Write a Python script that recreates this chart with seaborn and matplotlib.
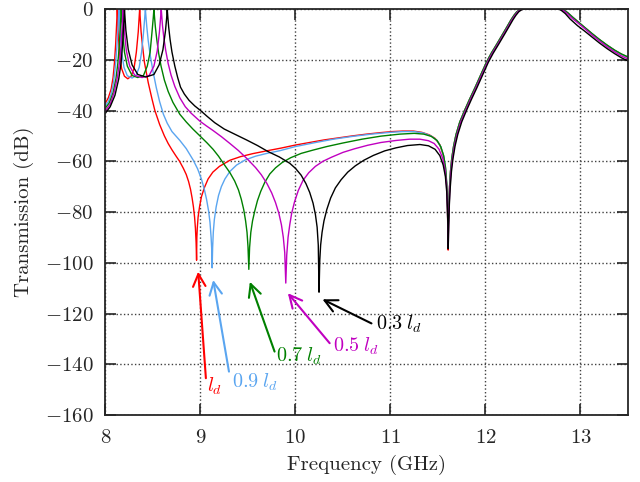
import matplotlib
matplotlib.use("Agg")
import matplotlib.pyplot as plt
import pandas as pd
import seaborn as sns

# ---- transmission curves (frequency in GHz, transmission in dB) ----
red_ghz = [8.00, 8.03, 8.06, 8.08, 8.095, 8.107, 8.116, 8.121, 8.124, 8.127, 8.135, 8.15, 8.17, 8.20,
           8.235, 8.27, 8.30, 8.325, 8.345, 8.355, 8.36, 8.364, 8.375, 8.39, 8.41, 8.45, 8.49, 8.52,
           8.57, 8.62, 8.66, 8.70, 8.74, 8.78, 8.82, 8.85, 8.875, 8.895, 8.912, 8.926, 8.938, 8.947,
           8.954, 8.959, 8.962, 8.967, 8.975, 8.99, 9.01, 9.04, 9.08, 9.13, 9.20, 9.31, 9.42, 9.55,
           9.71, 9.85, 10.0, 10.15, 10.3, 10.45, 10.6, 10.75, 10.9, 11.02, 11.13, 11.24, 11.33, 11.41,
           11.47, 11.52, 11.555, 11.578, 11.592, 11.6, 11.605, 11.607, 11.61, 11.615, 11.622, 11.632,
           11.645, 11.665, 11.69, 11.73, 11.78, 11.83, 11.89, 11.95, 12.01, 12.06, 12.12, 12.18, 12.23,
           12.27, 12.30, 12.33, 12.36, 12.39, 12.55, 12.7, 12.8, 12.83, 12.87, 12.92, 12.99, 13.05,
           13.12, 13.2, 13.28, 13.36, 13.43, 13.5]
red_db = [-37, -35, -31.5, -27, -21, -14, -7, -3, 0, -2, -10, -18, -23.5, -26.5,
          -27.5, -26.5, -23.5, -17, -9, -3, 0, -2.5, -9, -14.5, -21, -29, -35.5, -40,
          -45.5, -50, -53, -55.5, -57.8, -60, -62.8, -65.2, -68, -71, -74.5, -78, -82, -86.5,
          -92, -99, -90, -86, -82, -78, -74, -70.5, -67, -64.3, -62, -59.6, -58.2, -57,
          -55.8, -54.8, -53.6, -52.6, -51.6, -50.8, -50, -49.3, -48.7, -48.3, -48.1, -48.1, -48.6, -49.6,
          -51, -53.5, -57.5, -63, -69.5, -78.5, -90, -95, -85, -77, -70, -64,
          -59, -54, -49.5, -44.5, -40, -35.8, -31, -26, -21, -17.5, -13.8, -10, -6.8,
          -4.2, -2.5, -1.1, -0.3, 0, 0, 0, 0, -0.5, -1.6, -3.3, -5.6, -7.5,
          -9.7, -12.1, -14.3, -16.3, -17.8, -19]

blue_ghz = [8.00, 8.03, 8.06, 8.085, 8.105, 8.12, 8.131, 8.137, 8.142, 8.146, 8.155, 8.17, 8.195, 8.23,
            8.28, 8.32, 8.355, 8.38, 8.40, 8.413, 8.42, 8.425, 8.435, 8.45, 8.47, 8.50, 8.535, 8.57,
            8.61, 8.65, 8.70, 8.783, 8.85, 8.923, 8.97, 9.01, 9.04, 9.064, 9.085, 9.10, 9.112, 9.119,
            9.123, 9.128, 9.135, 9.146, 9.165, 9.19, 9.22, 9.257, 9.31, 9.38, 9.47, 9.58, 9.71, 9.84,
            10.0, 10.2, 10.4, 10.6, 10.8, 11.0, 11.13, 11.25, 11.35, 11.43, 11.49, 11.53, 11.56, 11.58,
            11.592, 11.6, 11.605, 11.607, 11.61, 11.615, 11.622, 11.632, 11.645, 11.665, 11.69, 11.73,
            11.78, 11.83, 11.89, 11.95, 12.01, 12.06, 12.12, 12.18, 12.23, 12.27, 12.30, 12.33, 12.36,
            12.39, 12.55, 12.7, 12.8, 12.83, 12.87, 12.92, 12.99, 13.05, 13.12, 13.2, 13.28, 13.36,
            13.43, 13.5]
blue_db = [-38, -36.5, -33.5, -29, -22.5, -15, -8, -3.5, 0, -2.5, -9.5, -17, -23, -26.3,
           -27.2, -26.3, -23, -17, -9.5, -3.5, 0, -2.5, -7, -12.5, -18, -24.5, -31, -36.5,
           -41.5, -45, -48.3, -51.8, -55, -59.5, -63, -67, -71, -75, -79.5, -84, -90, -95,
           -102, -94, -88, -83, -78, -73.5, -70, -67, -64, -61.5, -59.5, -58, -56.8, -55.8,
           -54.2, -52.7, -51.3, -50.2, -49.3, -48.6, -48.3, -48.3, -48.9, -50.1, -51.8, -54.3, -58, -63,
           -69, -78, -90, -94, -85, -77, -70, -64, -59, -54, -49.5, -44.5,
           -40, -35.8, -31, -26, -21, -17.5, -13.8, -10, -6.8, -4.2, -2.5, -1.1, -0.3,
           0, 0, 0, 0, -0.5, -1.6, -3.3, -5.6, -7.5, -9.7, -12.1, -14.3, -16.3,
           -17.8, -19]

green_ghz = [8.00, 8.04, 8.08, 8.11, 8.13, 8.145, 8.155, 8.161, 8.166, 8.17, 8.18, 8.20, 8.23, 8.28,
             8.34, 8.40, 8.44, 8.47, 8.49, 8.503, 8.51, 8.516, 8.525, 8.54, 8.56, 8.585, 8.62, 8.66,
             8.71, 8.783, 8.85, 8.92, 8.994, 9.07, 9.133, 9.19, 9.25, 9.31, 9.36, 9.40, 9.43, 9.455,
             9.475, 9.49, 9.50, 9.509, 9.517, 9.53, 9.548, 9.572, 9.60, 9.635, 9.677, 9.73, 9.79, 9.86,
             9.95, 10.06, 10.185, 10.33, 10.5, 10.7, 10.9, 11.1, 11.25, 11.35, 11.43, 11.49, 11.53,
             11.56, 11.58, 11.592, 11.6, 11.605, 11.607, 11.61, 11.615, 11.622, 11.632, 11.645, 11.665,
             11.69, 11.73, 11.78, 11.83, 11.89, 11.95, 12.01, 12.06, 12.12, 12.18, 12.23, 12.27, 12.30,
             12.33, 12.36, 12.39, 12.55, 12.7, 12.8, 12.83, 12.87, 12.92, 12.99, 13.05, 13.12, 13.2,
             13.28, 13.36, 13.43, 13.5]
green_db = [-39, -37, -33, -27.5, -21.5, -14.5, -8, -3.5, 0, -2.5, -9, -17, -22.5, -26.2,
            -27, -26.2, -22.5, -17, -9, -3.5, 0, -3, -7, -12, -17.5, -22.5, -28, -32.5,
            -36.8, -41.5, -44.5, -47.3, -50, -52.8, -55.3, -58, -61.3, -64.5, -67.8, -71.3, -75, -79,
            -83.5, -88, -93.5, -102.6, -94, -88, -83.5, -79.5, -75.5, -71.8, -68.3, -65, -62.6, -60.5,
            -58.6, -56.9, -55.6, -54.2, -52.8, -51.3, -50.1, -49.3, -49, -49.3, -50.2, -51.8, -54.3,
            -57.8, -62.5, -68.5, -77, -88, -94, -85, -77, -70, -64, -59, -54,
            -49.5, -44.5, -40, -35.8, -31, -26, -21, -17.5, -13.8, -10, -6.8, -4.2, -2.5,
            -1.1, -0.3, 0, 0, 0, 0, -0.5, -1.6, -3.3, -5.5, -7.4, -9.6, -12,
            -14.2, -16.2, -17.7, -18.9]

magenta_ghz = [8.00, 8.05, 8.09, 8.125, 8.15, 8.165, 8.175, 8.18, 8.184, 8.188, 8.20, 8.22, 8.255,
               8.31, 8.385, 8.46, 8.51, 8.545, 8.568, 8.58, 8.587, 8.593, 8.60, 8.615, 8.635, 8.66,
               8.69, 8.73, 8.783, 8.84, 8.90, 8.994, 9.06, 9.133, 9.22, 9.31, 9.40, 9.485, 9.58, 9.64,
               9.70, 9.75, 9.79, 9.825, 9.852, 9.872, 9.887, 9.898, 9.908, 9.922, 9.94, 9.96, 9.99,
               10.03, 10.08, 10.14, 10.21, 10.29, 10.38, 10.5, 10.62, 10.76, 10.9, 11.06, 11.2, 11.31,
               11.4, 11.46, 11.51, 11.55, 11.575, 11.59, 11.6, 11.605, 11.608, 11.612, 11.618, 11.626,
               11.637, 11.652, 11.673, 11.70, 11.74, 11.79, 11.84, 11.90, 11.96, 12.02, 12.07, 12.13,
               12.19, 12.24, 12.28, 12.31, 12.34, 12.37, 12.40, 12.55, 12.7, 12.79, 12.82, 12.86, 12.91,
               12.99, 13.05, 13.12, 13.2, 13.28, 13.36, 13.43, 13.5]
magenta_db = [-40, -37.5, -33, -27, -20.5, -14, -7.5, -3.5, 0, -2.5, -9, -16.5, -22.5,
              -26.2, -27, -26.2, -22.5, -16.5, -9, -3.5, 0, -3, -6.5, -11.5, -16.5, -21.5,
              -26, -30.5, -35, -38.5, -41, -44.2, -46, -47.9, -50.3, -53, -55.8, -58.8, -62.5, -65.3,
              -68.8, -72.5, -76.3, -80.5, -85, -90, -96, -108, -97, -90, -85, -80.5, -76,
              -71.5, -67.5, -64.5, -62, -60, -58.4, -56.5, -55.1, -53.7, -52.6, -51.8, -51.3, -51.3,
              -51.9, -53, -55.2, -58.8, -63.5, -69.5, -78, -88, -94, -85, -77, -70,
              -64, -59, -54, -49.5, -44.5, -40, -35.8, -31, -26, -21, -17.5, -13.8,
              -10, -6.8, -4.2, -2.5, -1.1, -0.3, 0, 0, 0, 0, -0.6, -1.8, -3.6,
              -6, -7.9, -10.2, -12.6, -14.9, -16.9, -18.5, -19.7]

black_ghz = [8.00, 8.05, 8.10, 8.14, 8.165, 8.18, 8.19, 8.196, 8.20, 8.204, 8.215, 8.24, 8.28, 8.34,
             8.425, 8.51, 8.565, 8.605, 8.632, 8.644, 8.65, 8.656, 8.665, 8.68, 8.70, 8.73, 8.76, 8.79,
             8.83, 8.88, 8.94, 9.0, 9.07, 9.15, 9.25, 9.37, 9.485, 9.60, 9.712, 9.83, 9.94, 10.0, 10.06,
             10.11, 10.15, 10.185, 10.21, 10.228, 10.24, 10.248, 10.256, 10.265, 10.28, 10.30, 10.33,
             10.37, 10.42, 10.48, 10.55, 10.63, 10.72, 10.82, 10.94, 11.06, 11.18, 11.31, 11.40, 11.47,
             11.52, 11.555, 11.578, 11.592, 11.6, 11.605, 11.608, 11.613, 11.62, 11.63, 11.642, 11.658,
             11.68, 11.708, 11.75, 11.80, 11.85, 11.91, 11.97, 12.03, 12.08, 12.14, 12.20, 12.25,
             12.29, 12.32, 12.35, 12.38, 12.41, 12.55, 12.7, 12.77, 12.80, 12.84, 12.89, 12.97, 13.04,
             13.12, 13.2, 13.28, 13.36, 13.43, 13.5]
black_db = [-41, -38.5, -34, -27.5, -21, -14, -7.5, -3.5, 0, -2.5, -8.5, -16, -22, -25.8,
            -26.8, -25.8, -22, -16, -8.5, -3.5, 0, -3, -7, -12, -17, -22.5, -27, -30.8,
            -33.5, -36, -38.2, -40, -42.3, -44.8, -47.3, -49.5, -51.6, -53.8, -56.2, -58.3, -60.8, -62.8,
            -65.5, -68.8, -72.3, -76.5, -81, -86, -93, -111.6, -99, -93, -88, -83.5, -79,
            -74.5, -70.5, -67.3, -64.3, -61.8, -59.6, -57.7, -55.9, -54.7, -53.8, -53.4, -53.9, -55.3,
            -57.8, -61.5, -66, -72, -79, -87, -94.5, -85, -77, -70, -64, -59,
            -54, -49.5, -44.5, -40, -35.8, -31, -26, -21, -17.5, -13.8, -10, -6.8,
            -4.2, -2.5, -1.1, -0.3, 0, 0, 0, 0, -0.6, -1.8, -3.9, -6.6, -8.6,
            -11, -13.4, -15.6, -17.6, -19.2, -20.5]

series_names = ["l_d", "0.9 l_d", "0.7 l_d", "0.5 l_d", "0.3 l_d"]
series_colors = ["#ff0000", "#5aa5f0", "#008000", "#c000c0", "#000000"]

# notch arrows: label text, arrow head, arrow tail, label anchor (left, baseline)
label_texts = [r"$l_d$", r"$0.9\;l_d$", r"$0.7\;l_d$", r"$0.5\;l_d$", r"$0.3\;l_d$"]
arrow_heads = [(8.976, -103.5), (9.134, -106.8), (9.52, -107.5), (9.92, -112.0), (10.284, -114.4)]
arrow_tails = [(9.057, -145.5), (9.30, -142.9), (9.78, -135.0), (10.36, -131.7), (10.80, -123.9)]
label_spots = [(9.064, -150.9), (9.327, -149.2), (9.80, -139.0), (10.395, -135.0), (10.845, -126.2)]

x_ticks = [8, 9, 10, 11, 12, 13]
y_ticks = [-160, -140, -120, -100, -80, -60, -40, -20, 0]

# ---- long-form table ----
curves = [(red_ghz, red_db), (blue_ghz, blue_db), (green_ghz, green_db),
          (magenta_ghz, magenta_db), (black_ghz, black_db)]
frames = []
for name, (f, t) in zip(series_names, curves):
    frames.append(pd.DataFrame({"freq": f, "trans": t, "series": name}))
df = pd.concat(frames, ignore_index=True)

# ---- style ----
sns.set_style("ticks")
plt.rcParams.update({
    "font.family": "serif",
    "font.serif": ["cmr10"],
    "mathtext.fontset": "cm",
    "axes.formatter.use_mathtext": True,
    "font.size": 15,
    "axes.linewidth": 1.3,
})

fig = plt.figure(figsize=(6.4, 4.82), dpi=100)
ax = fig.add_axes([0.1648, 0.139, 0.8164, 0.8423])

sns.lineplot(data=df, x="freq", y="trans", hue="series", hue_order=series_names,
             palette=series_colors, sort=False, estimator=None, legend=False,
             linewidth=1.0, ax=ax)

for txt, head, tail, spot, col in zip(label_texts, arrow_heads, arrow_tails, label_spots, series_colors):
    ax.annotate("", xy=head, xytext=tail,
                arrowprops=dict(arrowstyle="->,head_length=0.6,head_width=0.3",
                                color=col, lw=1.5, shrinkA=0, shrinkB=0))
    ax.text(spot[0], spot[1], txt, color=col, ha="left", va="baseline", fontsize=14.5)

ax.set_xlim(8, 13.5)
ax.set_ylim(-160, 0)
ax.set_xticks(x_ticks)
ax.set_yticks(y_ticks)
ax.grid(True, linestyle=":", color="0.25", linewidth=1.0)
ax.tick_params(direction="in", length=8, width=1.2, top=True, right=True, labelsize=15)
ax.tick_params(axis="x", pad=10)
ax.tick_params(axis="y", pad=8.5)
for sp in ax.spines.values():
    sp.set_visible(True)
    sp.set_linewidth(1.3)
ax.set_xlabel("Frequency (GHz)", fontsize=15, labelpad=6)
ax.set_ylabel("Transmission (dB)", fontsize=15, labelpad=8)

fig.savefig("out.png", dpi=100)
